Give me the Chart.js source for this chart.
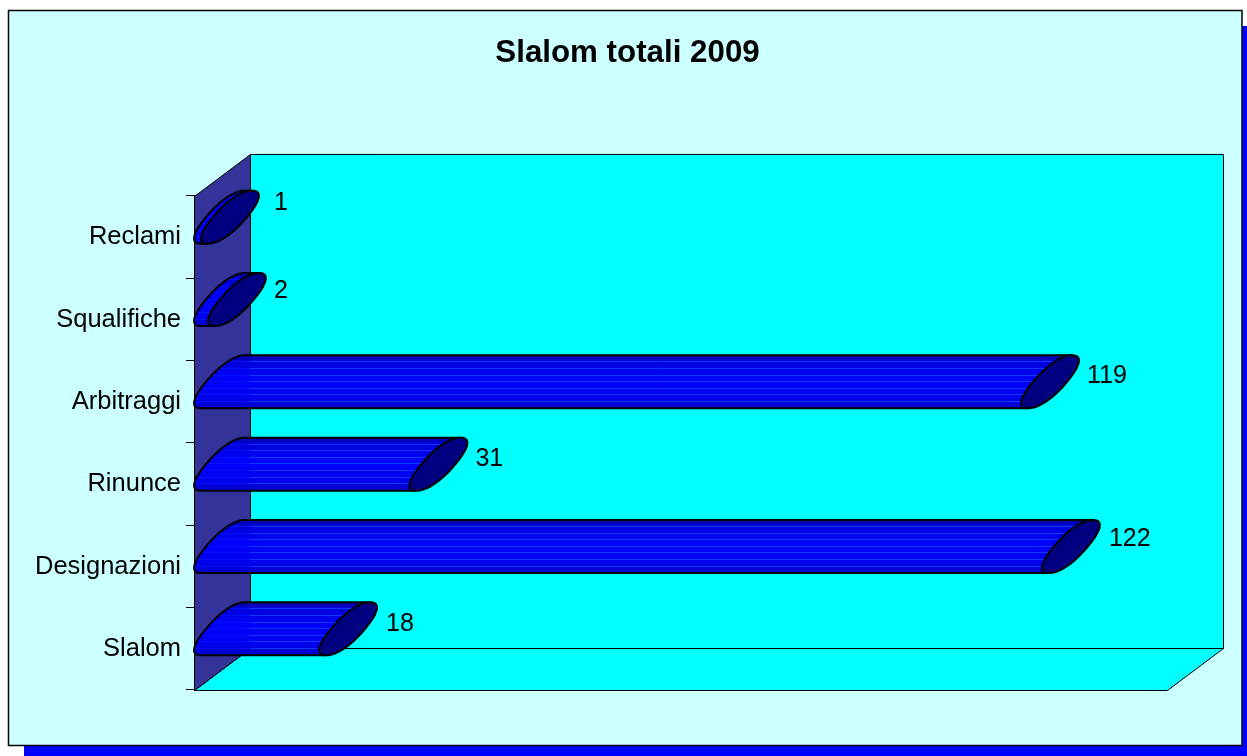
<!DOCTYPE html>
<html lang="it">
<head>
  <meta charset="UTF-8">
  <title>Slalom totali 2009</title>
  <script src="https://cdn.jsdelivr.net/npm/chart.js"></script>
  <style>
    html, body { margin: 0; padding: 0; background: #fff; overflow: hidden; }
    canvas { display: block; }
  </style>
</head>
<body>
  <canvas id="grafico" width="1247" height="756"></canvas>

  <script>
    const categorie = ['Reclami', 'Squalifiche', 'Arbitraggi', 'Rinunce', 'Designazioni', 'Slalom'];
    const valori = [1, 2, 119, 31, 122, 18];
    const titolo = 'Slalom totali 2009';

    const FONT = '"Liberation Sans", Arial, sans-serif';
    // profondita' del finto 3D
    const DX = 56, DY = 42;
    // spostamento etichette rispetto alla barra (come nell'originale)
    const etichetteY = [-34, -28, -26, -25, -27, -25];
    const etichetteX = [7, 0, 0, 0, 1, 1];

    function poligono(ctx, punti, fill) {
      ctx.beginPath();
      punti.forEach((p, i) => i ? ctx.lineTo(p[0], p[1]) : ctx.moveTo(p[0], p[1]));
      ctx.closePath();
      ctx.fillStyle = fill;
      ctx.fill();
      ctx.strokeStyle = '#000';
      ctx.lineWidth = 1;
      ctx.stroke();
    }

    const sfondo3d = {
      id: 'sfondo3d',
      afterLayout(chart) {
        // il titolo e' centrato sul pannello, non sull'area del grafico
        chart.titleBlock.right += 80;
      },
      beforeDraw(chart) {
        const ctx = chart.ctx;
        const a = chart.chartArea;
        ctx.save();
        // pannello con ombra
        ctx.fillStyle = '#0000ff';
        ctx.fillRect(24, 26, chart.width - 24, chart.height - 26);
        ctx.fillStyle = '#ccffff';
        ctx.fillRect(8.5, 10.5, 1233.5, 735);
        ctx.strokeStyle = '#000';
        ctx.lineWidth = 1.5;
        ctx.strokeRect(8.5, 10.5, 1233.5, 735);
        // pareti
        const l = a.left + 0.5, r = a.right + 0.5, t = a.top + 0.5, b = a.bottom + 0.5;
        poligono(ctx, [[l + DX, t - DY], [r + DX, t - DY], [r + DX, b - DY], [l + DX, b - DY]], '#00ffff');
        poligono(ctx, [[l, b], [l + DX, b - DY], [r + DX, b - DY], [r, b]], '#00ffff');
        poligono(ctx, [[l, t], [l + DX, t - DY], [l + DX, b - DY], [l, b]], '#333399');
        ctx.restore();
      }
    };

    function pow(v) {
      return Math.sign(v) * Math.pow(Math.abs(v), 0.88);
    }

    // percorso del tappo ellittico inclinato del cilindro
    function tappo(path, cx, cy, da, a) {
      const ux = 22, uy = -26.5, vx = 17;
      for (let i = 0; i <= 48; i++) {
        const th = da + (a - da) * i / 48;
        const x = cx + pow(Math.cos(th)) * ux + pow(Math.sin(th)) * vx;
        const y = cy + pow(Math.cos(th)) * uy;
        if (i === 0) path.moveTo(x, y); else path.lineTo(x, y);
      }
    }

    const cilindri = {
      id: 'cilindri',
      afterDatasetsDraw(chart) {
        const ctx = chart.ctx;
        const meta = chart.getDatasetMeta(0);
        const muro = chart.chartArea.left + DX;
        meta.data.forEach((bar, i) => {
          const cy = bar.y - 20;
          const top = cy - 26.5, bottom = cy + 26.5;
          const c0 = bar.base + 29, c1 = bar.x + 29;

          ctx.save();
          ctx.lineJoin = 'round';
          // corpo del cilindro
          const corpo = new Path2D();
          tappo(corpo, c0, cy, 0, -Math.PI);
          corpo.lineTo(c1 - 22, bottom);
          corpo.lineTo(c1 + 22, top);
          corpo.closePath();
          const g = ctx.createLinearGradient(0, top, 0, bottom);
          g.addColorStop(0, '#000098');
          g.addColorStop(0.1, '#0000d8');
          g.addColorStop(0.45, '#0000ff');
          g.addColorStop(0.8, '#0000ee');
          g.addColorStop(1, '#0000c8');
          ctx.fillStyle = g;
          ctx.fill(corpo);
          // strisce chiare del gradiente
          ctx.save();
          ctx.clip(corpo);
          ctx.lineWidth = 1;
          for (let k = 0; k < 7; k++) {
            const y = Math.round(top + 6 + k * 6.6) + 0.5;
            ctx.strokeStyle = '#0412fa';
            ctx.beginPath();
            ctx.moveTo(bar.base, y);
            ctx.lineTo(muro, y);
            ctx.stroke();
            ctx.strokeStyle = '#0a3cff';
            ctx.beginPath();
            ctx.moveTo(muro, y);
            ctx.lineTo(c1 + 30, y);
            ctx.stroke();
          }
          ctx.restore();
          ctx.strokeStyle = '#000';
          ctx.lineWidth = 2;
          ctx.stroke(corpo);
          // tappo destro
          const fine = new Path2D();
          tappo(fine, c1, cy, 0, Math.PI * 2);
          fine.closePath();
          ctx.fillStyle = '#000080';
          ctx.fill(fine);
          ctx.stroke(fine);
          // etichetta del valore
          ctx.fillStyle = '#000';
          ctx.font = '25px ' + FONT;
          ctx.textAlign = 'left';
          ctx.textBaseline = 'middle';
          ctx.fillText(String(valori[i]), bar.x + 66 + etichetteX[i], bar.y + etichetteY[i]);
          ctx.restore();
        });
      }
    };

    new Chart(document.getElementById('grafico'), {
      type: 'bar',
      data: {
        labels: categorie,
        datasets: [{
          data: valori,
          backgroundColor: 'rgba(0,0,0,0)',
          borderWidth: 0,
          barThickness: 52
        }]
      },
      options: {
        indexAxis: 'y',
        responsive: false,
        animation: false,
        layout: { padding: { left: 8, right: 80, top: 0, bottom: 66 } },
        plugins: {
          legend: { display: false },
          tooltip: { enabled: false },
          title: {
            display: true,
            text: titolo,
            color: '#000',
            font: { family: FONT, size: 31.3, weight: 'bold' },
            padding: { top: 35, bottom: 123.4 }
          }
        },
        scales: {
          x: { display: false, min: 0, max: 140 },
          y: {
            afterFit(scale) { scale.width = 186; },
            border: { display: true, color: '#000', width: 1 },
            grid: { display: true, drawOnChartArea: false, drawTicks: true, tickLength: 8, color: '#000', lineWidth: 1 },
            ticks: { color: '#000', padding: 5, font: { family: FONT, size: 25.5 } }
          }
        }
      },
      plugins: [sfondo3d, cilindri]
    });
  </script>
</body>
</html>
